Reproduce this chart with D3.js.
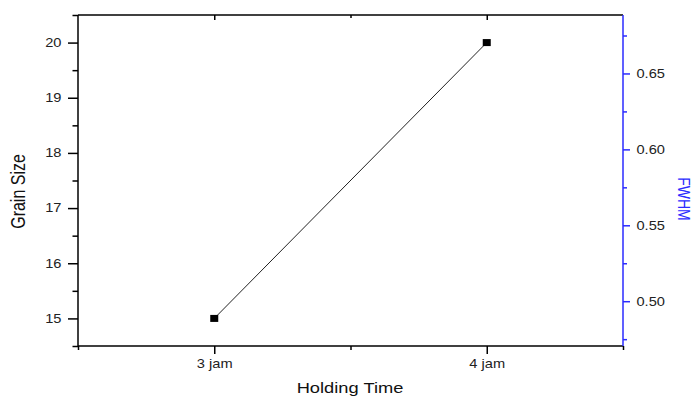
<!DOCTYPE html>
<html>
<head>
<meta charset="utf-8">
<script src="https://cdn.jsdelivr.net/npm/d3@7"></script>
<style>
  body { margin: 0; background: #fff; }
  text { font-family: Arial, "Liberation Sans", sans-serif; }
</style>
</head>
<body>
<script>
// data
var categories = ["3 jam", "4 jam"];
var grainSize = [15, 20];
var leftTicks = [15, 16, 17, 18, 19, 20];
var leftMinor = [14.5, 15.5, 16.5, 17.5, 18.5, 19.5, 20.5];
var rightTicks = [0.50, 0.55, 0.60, 0.65];
var rightMinor = [0.475, 0.525, 0.575, 0.625, 0.675];
var xMajor = [1, 2];
var xMinor = [0.5, 1.5, 2.5];

var width = 695, height = 396;
var box = {l: 78, r: 623, t: 15, b: 346};
var sx = 1.22; // the picture is stretched sideways
var blue = "#2b2bff";

var svg = d3.select("body").append("svg")
	.attr("width", width)
	.attr("height", height);

var x = d3.scaleLinear().domain([0.5, 2.5]).range([box.l, box.r]);
var y = d3.scaleLinear().domain([14.5, 20.5]).range([box.b, box.t]);
var y2 = d3.scaleLinear().domain([0.4705, 0.6885]).range([box.b, box.t]);

function clean(g, color) {
	g.select(".domain").remove();
	g.selectAll("line").attr("stroke", color).attr("stroke-width", 1.5);
	g.selectAll("text").attr("fill", "#222").style("font-size", "12px");
}

// bottom axis
var gb = svg.append("g").attr("transform", "translate(0," + box.b + ")")
	.call(d3.axisBottom(x).tickValues(xMajor).tickSize(8)
		.tickFormat(function(d) { return categories[d - 1]; }));
clean(gb, "#000");
gb.selectAll("text").attr("y", 22).attr("dy", 0)
	.attr("transform", "scale(" + sx + ",1)");
svg.append("g").attr("transform", "translate(0," + box.b + ")")
	.call(d3.axisBottom(x).tickValues(xMinor).tickSize(4).tickFormat(""))
	.call(clean, "#000");

// top axis, ticks inside
svg.append("g").attr("transform", "translate(0," + box.t + ")")
	.call(d3.axisTop(x).tickValues(xMajor).tickSize(-5).tickFormat(""))
	.call(clean, "#000");
svg.append("g").attr("transform", "translate(0," + box.t + ")")
	.call(d3.axisTop(x).tickValues([1.5]).tickSize(-3).tickFormat(""))
	.call(clean, "#000");

// left axis
var gl = svg.append("g").attr("transform", "translate(" + box.l + ",0)")
	.call(d3.axisLeft(y).tickValues(leftTicks).tickSize(10).tickFormat(d3.format("d")));
clean(gl, "#000");
gl.selectAll("text").attr("x", -16.5 / sx)
	.attr("transform", "scale(" + sx + ",1)");
svg.append("g").attr("transform", "translate(" + box.l + ",0)")
	.call(d3.axisLeft(y).tickValues(leftMinor).tickSize(5.5).tickFormat(""))
	.call(clean, "#000");

// frame
svg.append("line").attr("x1", box.l).attr("x2", box.r).attr("y1", box.t).attr("y2", box.t)
	.attr("stroke", "#000").attr("stroke-width", 1.5);
svg.append("line").attr("x1", box.l).attr("x2", box.r).attr("y1", box.b).attr("y2", box.b)
	.attr("stroke", "#000").attr("stroke-width", 1.5);
svg.append("line").attr("x1", box.l).attr("x2", box.l).attr("y1", box.t).attr("y2", box.b)
	.attr("stroke", "#000").attr("stroke-width", 1.5);

// right axis (blue)
var gr = svg.append("g").attr("transform", "translate(" + box.r + ",0)")
	.call(d3.axisRight(y2).tickValues(rightTicks).tickSize(7).tickFormat(d3.format(".2f")));
clean(gr, blue);
gr.selectAll("text").attr("x", 13.5 / sx)
	.attr("transform", "scale(" + sx + ",1)");
svg.append("g").attr("transform", "translate(" + box.r + ",0)")
	.call(d3.axisRight(y2).tickValues(rightMinor).tickSize(4).tickFormat(""))
	.call(clean, blue);
svg.append("line").attr("x1", box.r).attr("x2", box.r).attr("y1", box.t).attr("y2", box.b)
	.attr("stroke", blue).attr("stroke-width", 1.5);

// series
var line = d3.line()
	.x(function(d, i) { return x(i + 1); })
	.y(function(d) { return y(d); });
svg.append("path").datum(grainSize)
	.attr("d", line)
	.attr("fill", "none")
	.attr("stroke", "#222")
	.attr("stroke-width", 1);
svg.selectAll(".pt").data(grainSize).enter().append("rect")
	.attr("class", "pt")
	.attr("x", function(d, i) { return x(i + 1) - 4; })
	.attr("y", function(d) { return y(d) - 3.5; })
	.attr("width", 8)
	.attr("height", 7)
	.attr("fill", "#000");

// axis titles
svg.append("text")
	.attr("transform", "translate(350,393) scale(" + sx + ",1)")
	.attr("text-anchor", "middle")
	.style("font-size", "15px")
	.attr("fill", "#111")
	.text("Holding Time");
svg.append("text")
	.attr("transform", "translate(25,191.5) scale(" + sx + ",1) rotate(-90)")
	.attr("text-anchor", "middle")
	.style("font-size", "16px")
	.attr("fill", "#111")
	.text("Grain Size");
svg.append("text")
	.attr("transform", "translate(678,199) scale(" + sx + ",1) rotate(90)")
	.attr("text-anchor", "middle")
	.style("font-size", "14px")
	.attr("fill", blue)
	.text("FWHM");
</script>
</body>
</html>
